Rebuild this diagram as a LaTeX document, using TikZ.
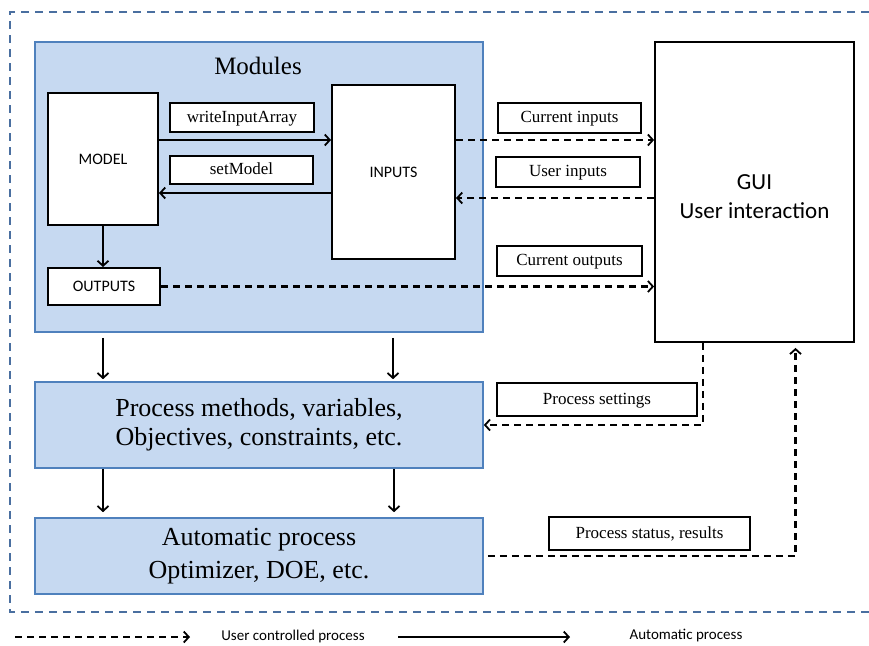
\documentclass[tikz,border=0pt]{standalone}
\usepackage{fontspec}
\setmainfont{Liberation Serif}
\newfontfamily\calib{Carlito}
\usetikzlibrary{arrows.meta}
\definecolor{bfill}{HTML}{C6D9F1}
\definecolor{bdraw}{HTML}{4F81BD}
\definecolor{frame}{HTML}{4A6FA0}
\tikzset{
  bluebox/.style={draw=bdraw, line width=1.6pt, fill=bfill, inner sep=0pt},
  wbox/.style={draw=black, line width=2pt, fill=white, inner sep=0pt},
  lbl/.style={wbox, font=\fontsize{17}{18}\selectfont, text height=12pt, text depth=3pt},
  sans/.style={font=\calib\fontsize{16}{18}\selectfont},
  big/.style={align=center},
  tip/.style={-{Straight Barb[length=5pt,width=11pt,line width=1.8pt]}},
  arr/.style={tip, line width=2pt},
  darr/.style={tip, line width=2.2pt, dash pattern=on 7pt off 5pt},
}
\begin{document}
\begin{tikzpicture}[x=1pt,y=-1pt]
\useasboundingbox (0,0) rectangle (869,645);
% outer frame
\draw[frame, line width=1.6pt, dash pattern=on 8pt off 6pt] (869,12) -- (10,12) -- (10,612) -- (869,612);

% modules
\node[bluebox, minimum width=448pt, minimum height=290pt] (modules) at (259,187) {};
\node[font=\fontsize{25}{30}\selectfont] (modtitle) at (258,66) {Modules};
\node[wbox, sans, minimum width=110pt, minimum height=132pt] (model) at (103,159) {MODEL};
\node[wbox, sans, minimum width=123pt, minimum height=174pt] (inputs) at (393.5,172) {INPUTS};
\node[wbox, sans, minimum width=112pt, minimum height=37pt] (outputs) at (104,286.5) {OUTPUTS};
\node[lbl, minimum width=144pt, minimum height=29pt] (wia) at (242,117.5) {writeInputArray};
\node[lbl, minimum width=143pt, minimum height=28pt] (setm) at (241.5,170) {setModel};

% GUI
\node[wbox, line width=1.8pt, minimum width=199pt, minimum height=300pt, align=center,
      font=\calib\fontsize{23}{29}\selectfont] (gui) at (754.5,192) {\rule{0pt}{24pt}GUI\\User interaction};
\node[lbl, minimum width=143pt, minimum height=30pt] (curin) at (569.5,118) {Current inputs};
\node[lbl, minimum width=144pt, minimum height=30pt] (userin) at (568,172) {User inputs};
\node[lbl, minimum width=145pt, minimum height=30pt] (curout) at (569.5,261) {Current outputs};

% process boxes
\node[bluebox, big, minimum width=448pt, minimum height=86pt, font=\fontsize{26}{29}\selectfont] (procm) at (259,425)
  {Process methods, variables,\\Objectives, constraints, etc.};
\node[bluebox, big, minimum width=448pt, minimum height=76pt, font=\fontsize{26}{33}\selectfont] (auto) at (259,556)
  {Automatic process\\Optimizer, DOE, etc.};
\node[lbl, minimum width=200pt, minimum height=33pt] (procset) at (597,399.5) {Process settings};
\node[lbl, minimum width=201pt, minimum height=33pt] (procstat) at (649.5,533.5) {Process status, results};

% connectors inside modules
\draw[arr] ([yshift=19pt]model.east) -- ([yshift=19pt]model.east -| inputs.west);
\draw[arr] ([yshift=-21pt]inputs.west) -- ([yshift=-21pt]inputs.west -| model.east);
\draw[arr] (model.south) -- (model.south |- outputs.north);

% dashed to/from GUI
\draw[darr] ([yshift=32pt]inputs.east) -- ([yshift=32pt]inputs.east -| gui.west);
\draw[darr] ([yshift=-6pt]gui.west) -- ([yshift=-6pt]gui.west -| inputs.east);
\draw[darr] (outputs.east) -- (outputs.east -| gui.west);

% vertical flow
\draw[arr, shorten <=5pt, shorten >=2pt] ([xshift=-156pt]modules.south) -- ([xshift=-156pt]modules.south |- procm.north);
\draw[arr, shorten <=5pt, shorten >=2pt] ([xshift=134pt]modules.south) -- ([xshift=134pt]modules.south |- procm.north);
\draw[arr, shorten >=5pt] ([xshift=-156pt]procm.south) -- ([xshift=-156pt]procm.south |- auto.north);
\draw[arr, shorten >=5pt] ([xshift=135pt]procm.south) -- ([xshift=135pt]procm.south |- auto.north);

% GUI <-> process
\draw[darr] ([xshift=-51.5pt]gui.south) |- (procm.east);
\draw[darr, shorten <=4pt, shorten >=5pt] (auto.east) -| ([xshift=41pt]gui.south);

% legend
\coordinate (l1a) at (15,637);
\coordinate (l1b) at (190,637);
\coordinate (l2a) at (398,637);
\coordinate (l2b) at (570,637);
\draw[darr] (l1a) -- (l1b);
\draw[arr] (l2a) -- (l2b);
\node[font=\calib\fontsize{15}{16}\selectfont] (leg1) at (293,636) {User controlled process};
\node[font=\calib\fontsize{15}{16}\selectfont] (leg2) at (686,636) {Automatic process};
\end{tikzpicture}
\end{document}
